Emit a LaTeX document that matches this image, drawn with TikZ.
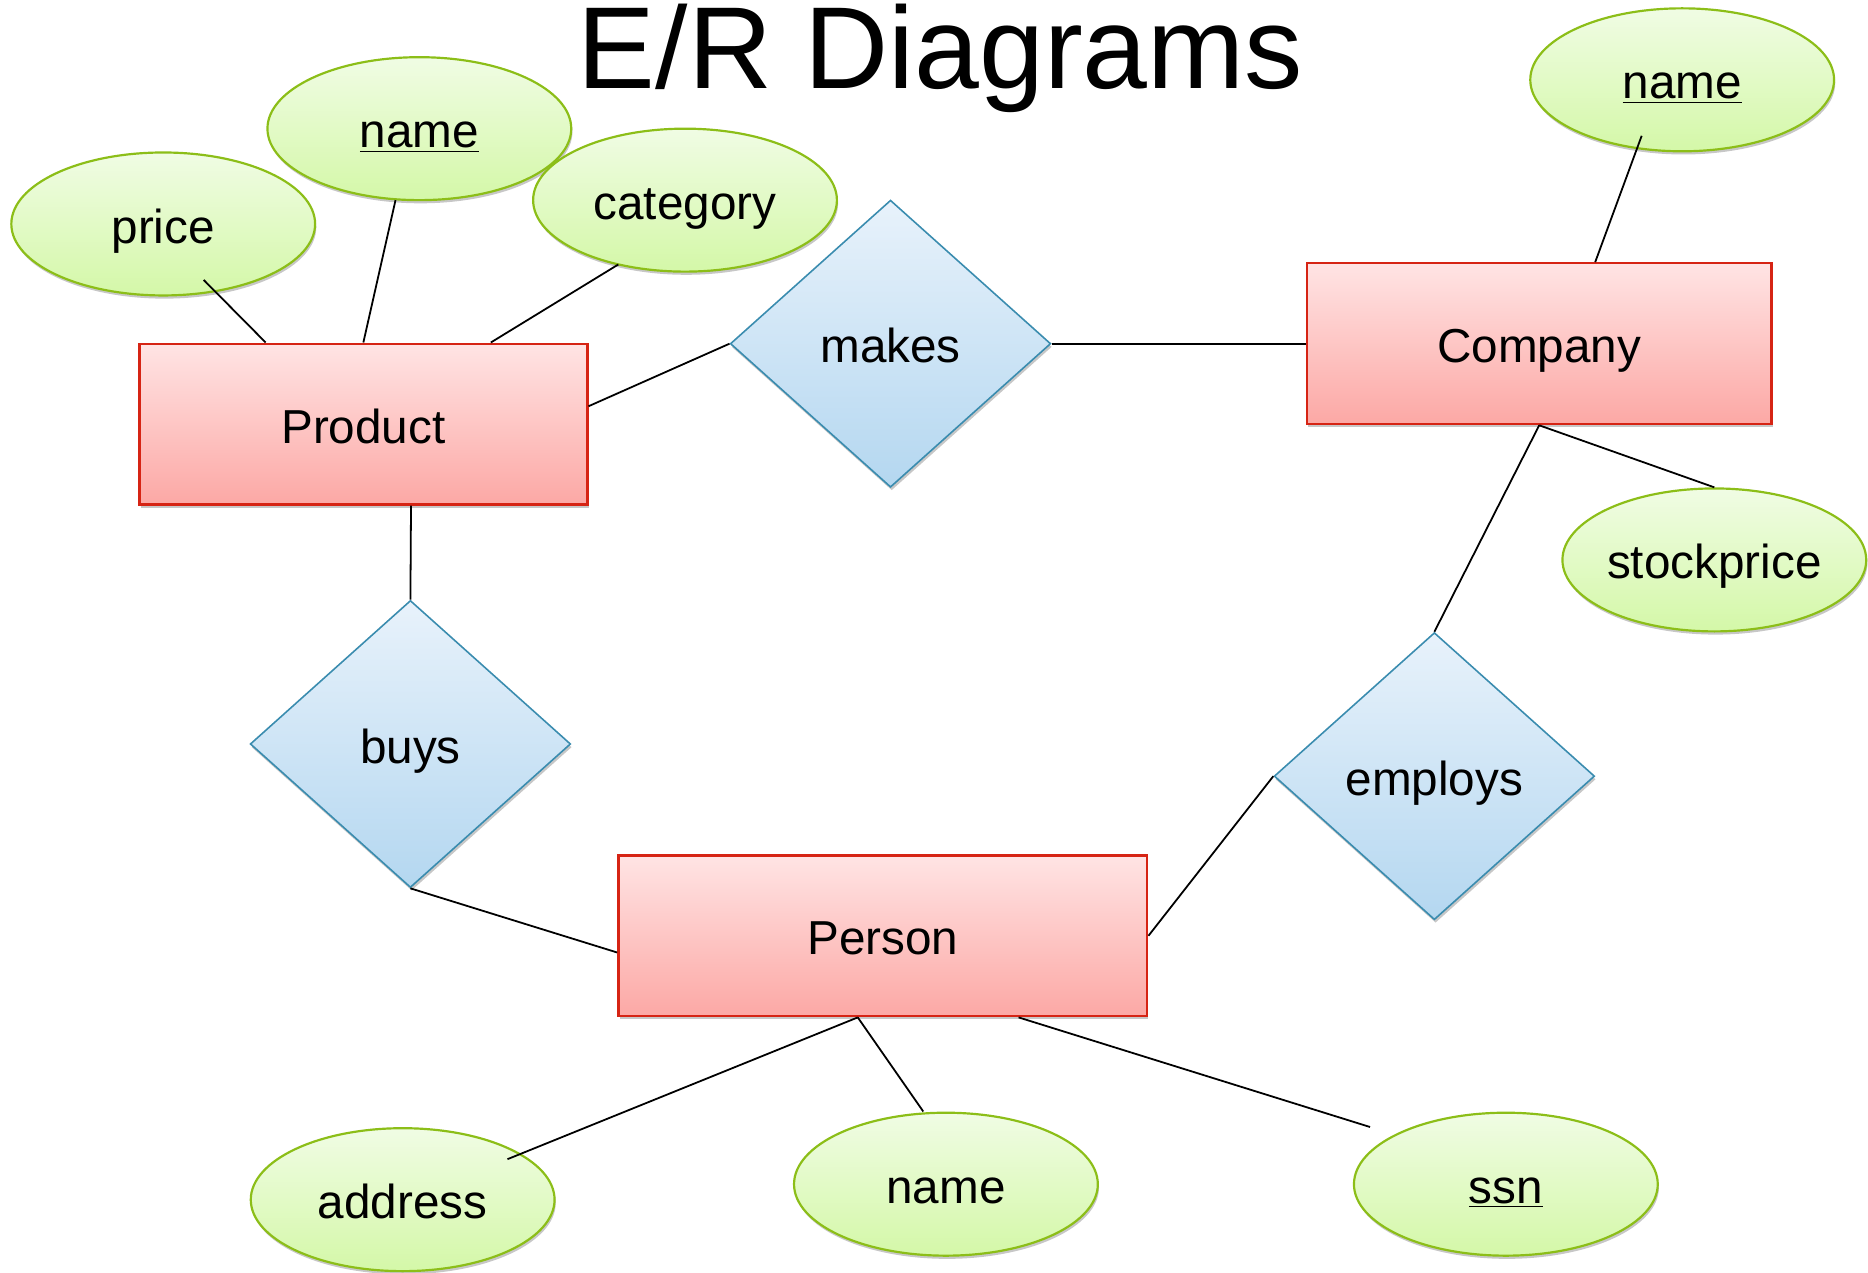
\documentclass[tikz,border=0pt]{standalone}
\usepackage{fontspec}
\setmainfont{Liberation Sans}
\usetikzlibrary{shapes.geometric,shadows,calc}
\definecolor{entborder}{RGB}{214,36,20}
\definecolor{enttop}{RGB}{255,228,228}
\definecolor{entbot}{RGB}{252,168,165}
\definecolor{attborder}{RGB}{140,190,24}
\definecolor{atttop}{RGB}{240,252,228}
\definecolor{attbot}{RGB}{212,248,168}
\definecolor{relborder}{RGB}{58,140,175}
\definecolor{reltop}{RGB}{232,242,251}
\definecolor{relbot}{RGB}{180,215,240}
\tikzset{
  lbl/.style={font=\fontsize{24}{28}\selectfont, text height=19.2pt, text depth=0pt, inner sep=0pt},
  shad/.style={drop shadow={shadow xshift=0.6pt, shadow yshift=-1.6pt, opacity=0.22, fill=black}},
  entity/.style={lbl, shad, rectangle, draw=entborder, line width=1.2pt, top color=enttop, bottom color=entbot, minimum height=81pt},
  attr/.style={lbl, shad, ellipse, draw=attborder, line width=1.1pt, top color=atttop, bottom color=attbot, minimum width=153pt, minimum height=72pt},
  rel/.style={lbl, shad, diamond, draw=relborder, line width=0.8pt, top color=reltop, bottom color=relbot, minimum width=161.4pt, minimum height=144.6pt},
  conn/.style={draw=black, line width=0.9pt}
}
\begin{document}
\begin{tikzpicture}[x=0.6pt,y=-0.6pt]
\useasboundingbox (0,0) rectangle (1568,1068);
% title
\node[font=\fontsize{58.7}{64}\selectfont, anchor=base, inner sep=0pt] (title) at (789.5,74) {E/R Diagrams};
% entities
\node[entity, minimum width=225.6pt] (product) at (305,356) {Product};
\node[entity, minimum width=234pt] (company) at (1292,288.5) {Company};
\node[entity, minimum width=266.4pt] (person) at (741,785.5) {Person};
% relationships
\node[rel] (makes) at (747.5,288.5) {makes};
\node[rel] (buys) at (344.5,624.5) {buys};
\node[rel] (employs) at (1204,651.5) {employs};
% attributes
\node[attr] (price) at (137,188) {price};
\node[attr] (pname) at (352,108) {\underline{name}};
\node[attr] (category) at (575,168) {category};
\node[attr] (cname) at (1412,67) {\underline{name}};
\node[attr] (stock) at (1439,470) {stockprice};
\node[attr] (address) at (338,1007) {address};
\node[attr] (prname) at (794,994) {name};
\node[attr] (ssn) at (1264,994) {\underline{ssn}};
% connectors
\draw[conn] ($(price.center)+(34,47)$) -- ($(product.north)+(-82,0)$);
\draw[conn] ($(pname.center)+(-20,60)$) -- (product.north);
\draw[conn] ($(category.center)+(-56,54)$) -- ($(product.north)+(107,0)$);
\draw[conn] ($(product.east)+(0,-15)$) -- (makes.west);
\draw[conn] (makes.east) -- (company.west);
\draw[conn] ($(cname.center)+(-34,47)$) -- ($(company.north)+(47,0)$);
\draw[conn] (company.south) -- (stock.north);
\draw[conn] (company.south) -- (employs.north);
\draw[conn] ($(product.south)+(40,0)$) -- (buys.north);
\draw[conn] (buys.south) -- ($(person.west)+(0,14)$);
\draw[conn] (person.east) -- (employs.west);
\draw[conn] ($(person.south)+(-21,0)$) -- ($(address.center)+(88,-34)$);
\draw[conn] ($(person.south)+(-21,0)$) -- ($(prname.center)+(-19,-61)$);
\draw[conn] ($(person.south)+(114,0)$) -- ($(ssn.center)+(-114,-48)$);
\end{tikzpicture}
\end{document}
